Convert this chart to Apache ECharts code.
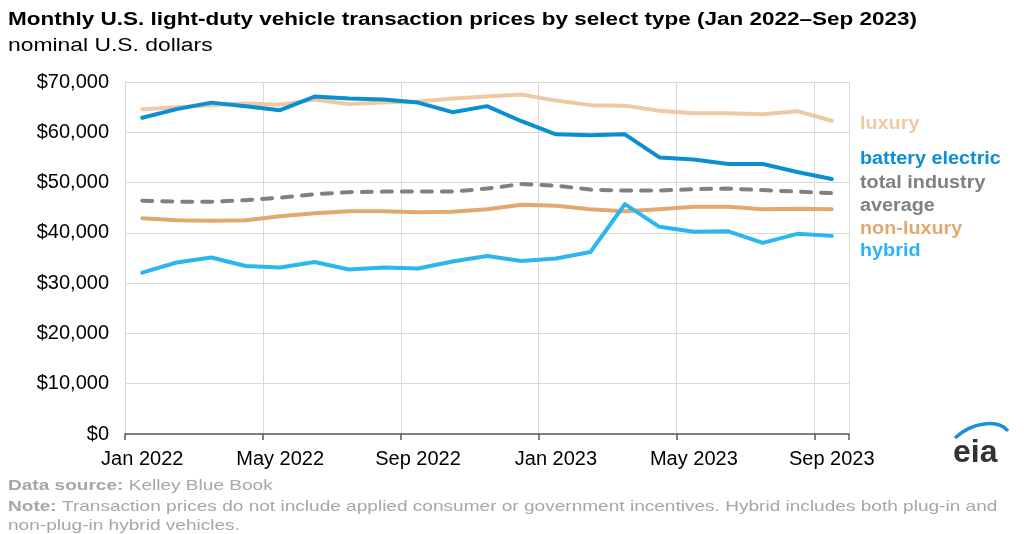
<!DOCTYPE html>
<html><head><meta charset="utf-8">
<script src="https://cdn.jsdelivr.net/npm/echarts@6/dist/echarts.min.js"></script>
<style>html,body{margin:0;padding:0;background:#fff}#c{width:1024px;height:534px}</style>
</head><body><div id="c"></div>
<script>
var months = ['Jan 2022','Feb 2022','Mar 2022','Apr 2022','May 2022','Jun 2022','Jul 2022','Aug 2022','Sep 2022','Oct 2022','Nov 2022','Dec 2022','Jan 2023','Feb 2023','Mar 2023','Apr 2023','May 2023','Jun 2023','Jul 2023','Aug 2023','Sep 2023'];
var luxury = [64600,65000,65400,65700,65500,66500,65600,65900,66100,66700,67100,67500,66300,65400,65300,64300,63800,63800,63600,64200,62300];
var batteryElectric = [62900,64600,65900,65200,64400,67100,66700,66500,65900,64000,65200,62200,59600,59400,59600,55000,54600,53700,53700,52100,50700];
var totalIndustry = [46400,46200,46200,46500,47000,47700,48100,48200,48200,48200,48800,49700,49400,48600,48400,48400,48700,48800,48500,48200,47900];
var nonLuxury = [42900,42500,42400,42500,43300,43900,44300,44300,44100,44200,44700,45600,45400,44700,44300,44700,45200,45200,44700,44800,44700];
var hybrid = [32100,34100,35100,33400,33100,34200,32700,33100,32900,34300,35400,34400,34900,36200,45700,41200,40200,40300,38000,39800,39400];
var yTicks = [0,10000,20000,30000,40000,50000,60000,70000];

var FONT = '"Liberation Sans", Arial, sans-serif';
var chart = echarts.init(document.getElementById('c'), null, {renderer:'canvas'});
function ln(name, data, color, extra){
  return Object.assign({
    name:name, type:'line', data:data, symbol:'none', smooth:false,
    lineStyle:{color:color, width:4, cap:'round', join:'round'},
    itemStyle:{color:color}, z:3
  }, extra||{});
}
function txt(x, y, sx, style){
  return {type:'text', x:x, y:y, scaleX:sx, originX:0, originY:0, style:style};
}
var footRich = {b:{font:'bold 15px '+FONT, fill:'#a6a6a6'}, n:{font:'15px '+FONT, fill:'#a6a6a6'}};
chart.setOption({
  animation:false,
  textStyle:{fontFamily:FONT},
  grid:{left:125, right:175, top:82, bottom:100, containLabel:false},
  xAxis:{
    type:'category', data:months, boundaryGap:true,
    axisLine:{show:true, lineStyle:{color:'#595959', width:1.5}},
    axisTick:{show:true, interval:3, length:6, lineStyle:{color:'#595959', width:1.5}},
    axisLabel:{interval:3, color:'#000', fontSize:20, margin:15, fontFamily:FONT},
    splitLine:{show:true, interval:3, lineStyle:{color:'#d9d9d9', width:1}}
  },
  yAxis:{
    type:'value', min:yTicks[0], max:yTicks[yTicks.length-1], interval:10000,
    axisLine:{show:true, lineStyle:{color:'#d9d9d9'}},
    axisTick:{show:false},
    axisLabel:{color:'#000', fontSize:20, margin:16, fontFamily:FONT,
      formatter:function(v){ return '$' + v.toLocaleString('en-US'); }},
    splitLine:{show:true, lineStyle:{color:'#d9d9d9', width:1}}
  },
  series:[
    ln('luxury', luxury, '#efc9a3', {z:2}),
    ln('battery electric', batteryElectric, '#0a8fd1', {z:4}),
    ln('total industry average', totalIndustry, '#808080', {lineStyle:{color:'#808080', width:4, type:[10,10], cap:'round'}}),
    ln('non-luxury', nonLuxury, '#e3a86f'),
    ln('hybrid', hybrid, '#2cb6f0', {z:5})
  ],
  graphic:[
    txt(8, 11, 1.25, {text:'Monthly U.S. light-duty vehicle transaction prices by select type (Jan 2022\u2013Sep 2023)', font:'bold 18px '+FONT, fill:'#000'}),
    txt(8, 37, 1.27, {text:'nominal U.S. dollars', font:'18px '+FONT, fill:'#000'}),
    txt(860, 115, 1.1, {text:'luxury', font:'bold 18px '+FONT, fill:'#efc9a3'}),
    txt(860, 150, 1.1, {text:'battery electric', font:'bold 18px '+FONT, fill:'#0a8fd1'}),
    txt(860, 174, 1.1, {text:'total industry', font:'bold 18px '+FONT, fill:'#808080'}),
    txt(860, 197, 1.1, {text:'average', font:'bold 18px '+FONT, fill:'#808080'}),
    txt(860, 220, 1.1, {text:'non-luxury', font:'bold 18px '+FONT, fill:'#e3a86f'}),
    txt(860, 242, 1.1, {text:'hybrid', font:'bold 18px '+FONT, fill:'#2cb6f0'}),
    txt(8, 478, 1.27, {rich:footRich, text:'{b|Data source:}{n| Kelley Blue Book}'}),
    txt(8, 499, 1.27, {rich:footRich, text:'{b|Note:}{n| Transaction prices do not include applied consumer or government incentives. Hybrid includes both plug-in and}'}),
    txt(8, 518, 1.27, {text:'non-plug-in hybrid vehicles.', font:'15px '+FONT, fill:'#a6a6a6'}),
    {type:'bezierCurve', shape:{x1:955, y1:438, x2:1008, y2:431, cpx1:972, cpy1:422, cpx2:998, cpy2:419}, style:{stroke:'#1d8fd8', lineWidth:3.5, fill:null}},
    txt(953, 437, 1, {text:'eia', font:'bold 32px '+FONT, fill:'#333'})
  ]
});
</script></body></html>
